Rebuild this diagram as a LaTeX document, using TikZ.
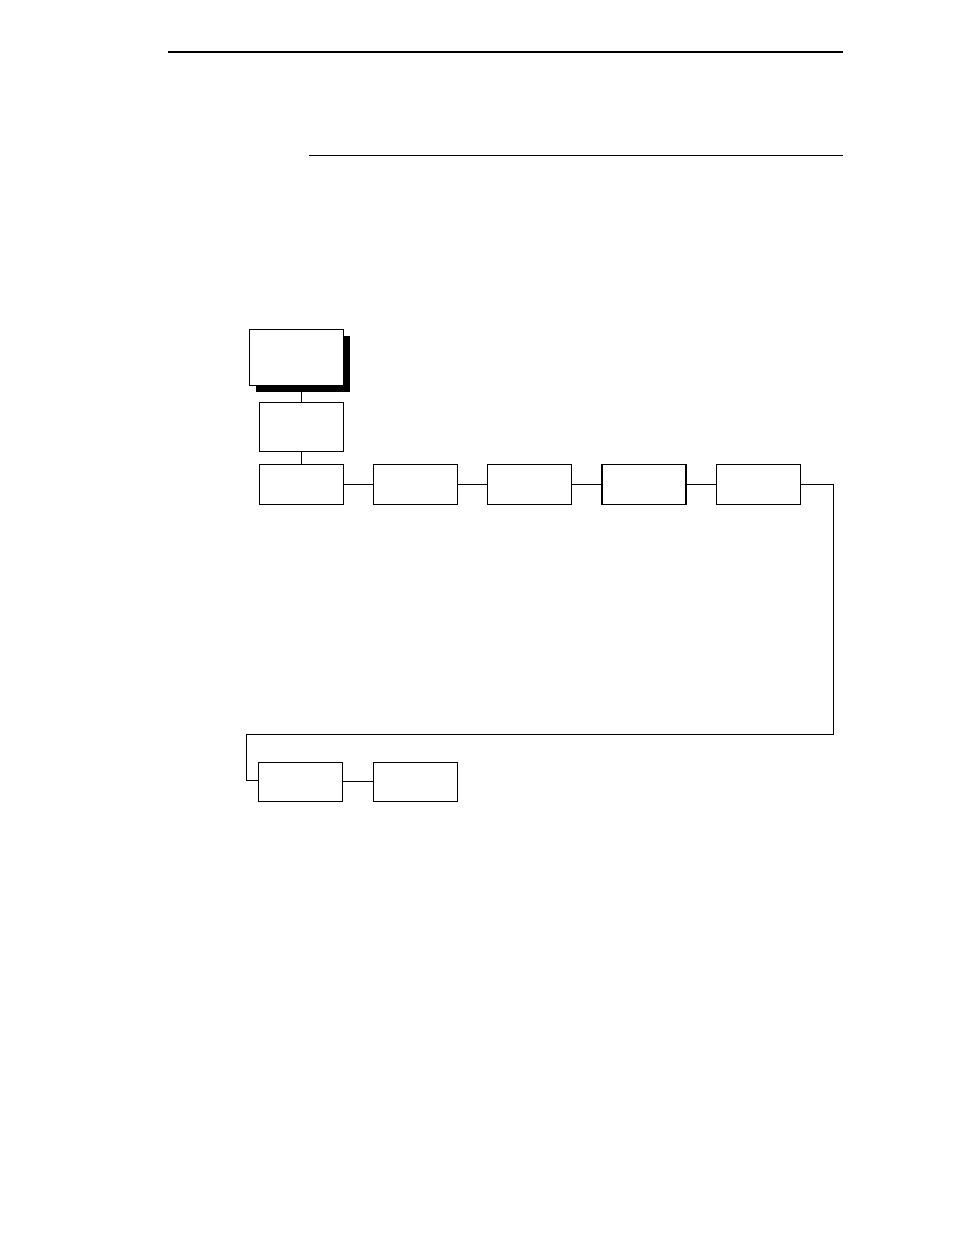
\documentclass[tikz,border=0pt]{standalone}
\begin{document}
\begin{tikzpicture}[x=0.75pt,y=-0.75pt,
  menubox/.style={draw=black,line width=0.8pt,fill=white,rectangle,minimum width=63pt,minimum height=30pt,inner sep=0pt},
  topbox/.style={menubox,minimum width=70.5pt,minimum height=42pt},
  shadowbox/.style={fill=black,draw=none,rectangle,minimum width=70.5pt,minimum height=42pt,inner sep=0pt},
  link/.style={line width=0.8pt}]
\useasboundingbox[fill=white] (0,0) rectangle (954,1235);
% header rules
\coordinate (r1a) at (168,52);
\coordinate (r1b) at (843,52);
\coordinate (r2a) at (309,155.5);
\coordinate (r2b) at (843,155.5);
\draw[line width=1.5pt] (r1a) -- (r1b);
\draw[line width=0.75pt] (r2a) -- (r2b);
% top box with shadow
\node[shadowbox] (shad) at (303,364) {};
\node[topbox] (top) at (296.3,357.3) {};
\node[menubox,minimum height=37pt] (sub) at (301.3,426.8) {};
% row
\node[menubox] (b1) at (301.3,484.3) {};
\node[menubox] (b2) at (415.5,484.3) {};
\node[menubox] (b3) at (529.3,484.3) {};
\node[menubox] (b4) at (644,484.3) {};
\node[menubox] (b5) at (758.3,484.3) {};
% bottom row
\node[menubox,minimum height=29.5pt] (c1) at (300.8,781.7) {};
\node[menubox,minimum height=29.5pt] (c2) at (415.3,782) {};
% connectors
\draw[link] (sub.north) -- (sub.north |- top.south);
\draw[link] (sub.south) -- (b1.north);
\draw[link] (b1.east) -- (b2.west);
\draw[link] (b2.east) -- (b3.west);
\draw[link] (b3.east) -- (b4.west);
\draw[link] (b4.east) -- (b5.west);
\draw[link] (c1.east) -- (c2.west |- c1.east);
\coordinate (k1) at (833.3,484.3);
\coordinate (k2) at (833.3,734.3);
\coordinate (k3) at (246.3,734.3);
\coordinate (k4) at (246.3,780.7);
\draw[link] (b5.east) -- (k1) -- (k2) -- (k3) -- (k4) -- (c1.west |- k4);
\end{tikzpicture}
\end{document}
